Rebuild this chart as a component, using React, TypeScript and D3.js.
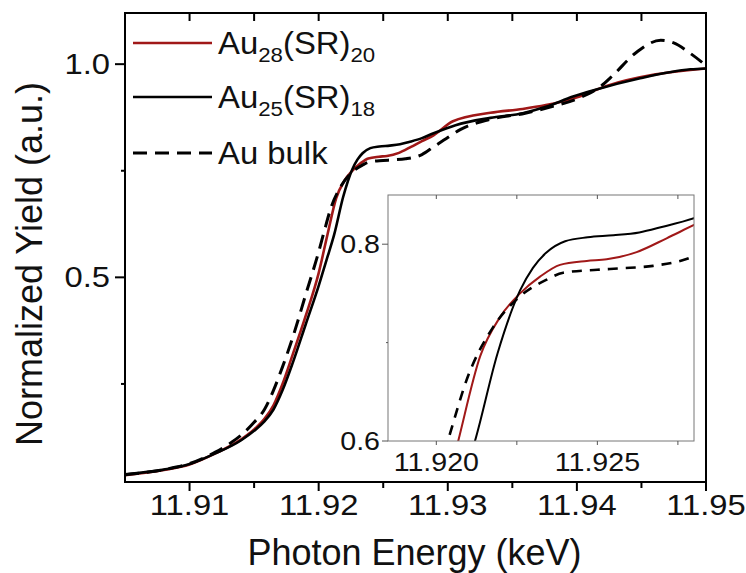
import React from "react";
import * as d3 from "d3";

// ---------- data ----------
const au25Energy = [11.905, 11.908, 11.910, 11.912, 11.914, 11.915, 11.9158, 11.9165, 11.9172, 11.918, 11.919, 11.920, 11.9206, 11.9212, 11.9219, 11.9226, 11.9230, 11.9234, 11.9240, 11.9247, 11.9255, 11.9263, 11.9270, 11.9280, 11.9289, 11.9306, 11.9333, 11.9358, 11.9376, 11.9397, 11.9413, 11.9449, 11.9488, 11.9500];
const au25Yield = [0.038, 0.049, 0.062, 0.087, 0.118, 0.140, 0.162, 0.19, 0.235, 0.30, 0.39, 0.48, 0.54, 0.600, 0.689, 0.753, 0.776, 0.791, 0.803, 0.807, 0.809, 0.812, 0.8175, 0.8265, 0.838, 0.857, 0.874, 0.885, 0.900, 0.924, 0.939, 0.967, 0.988, 0.990];

const au28Energy = [11.905, 11.908, 11.910, 11.912, 11.914, 11.915, 11.9158, 11.9165, 11.9172, 11.918, 11.919, 11.920, 11.92068, 11.92136, 11.92198, 11.9226, 11.92322, 11.92384, 11.92467, 11.92529, 11.92622, 11.92715, 11.9280, 11.9289, 11.9304, 11.9333, 11.9358, 11.9376, 11.9397, 11.9423, 11.9461, 11.9500];
const au28Yield = [0.036, 0.048, 0.061, 0.087, 0.12, 0.143, 0.168, 0.20, 0.25, 0.32, 0.41, 0.51, 0.600, 0.686, 0.726, 0.750, 0.767, 0.779, 0.783, 0.7846, 0.792, 0.806, 0.8195, 0.833, 0.866, 0.886, 0.895, 0.904, 0.919, 0.949, 0.976, 0.990];

const bulkEnergy = [11.905, 11.908, 11.910, 11.912, 11.913, 11.914, 11.915, 11.9158, 11.9165, 11.9172, 11.918, 11.919, 11.920, 11.92043, 11.92094, 11.92177, 11.9226, 11.92343, 11.92394, 11.9250, 11.9257, 11.92673, 11.9280, 11.9289, 11.9300, 11.9310, 11.9335, 11.9360, 11.9380, 11.9402, 11.9418, 11.9428, 11.9445, 11.9465, 11.9475, 11.9488, 11.9500];
const bulkYield = [0.037, 0.049, 0.063, 0.09, 0.108, 0.13, 0.16, 0.19, 0.235, 0.29, 0.36, 0.46, 0.56, 0.608, 0.662, 0.716, 0.747, 0.764, 0.771, 0.774, 0.7755, 0.778, 0.788, 0.806, 0.828, 0.847, 0.872, 0.885, 0.900, 0.921, 0.947, 0.974, 1.025, 1.056, 1.050, 1.025, 0.997];

const xMajorTicks = [11.91, 11.92, 11.93, 11.94, 11.95];
const xMinorTicks = [11.915, 11.925, 11.935, 11.945];
const xTopTicks = [11.91, 11.915, 11.92, 11.925, 11.93, 11.935, 11.94, 11.945];
const yMajorTicks = [0.5, 1.0];
const yMinorTicks = [0.25, 0.75];

const insetXTicks = [11.92, 11.9225, 11.925, 11.9275];
const insetXLabels = [11.92, 11.925];
const insetYTicks = [0.6, 0.7, 0.8];
const insetYLabels = [0.6, 0.8];

const RED = "#a01818";
const FONT = "'Liberation Sans', Arial, sans-serif";

type Series = { name: string; energy: number[]; yld: number[]; color: string; dash: boolean };
const series: Series[] = [
  { name: "au28", energy: au28Energy, yld: au28Yield, color: RED, dash: false },
  { name: "au25", energy: au25Energy, yld: au25Yield, color: "#000", dash: false },
  { name: "bulk", energy: bulkEnergy, yld: bulkYield, color: "#000", dash: true },
];

function Label({ x, y, size, anchor, sx, children }: any) {
  return (
    <text transform={`translate(${x},${y}) scale(${sx},1)`} fontSize={size} textAnchor={anchor} fill="#111">
      {children}
    </text>
  );
}

export default function App() {
  const W = 746, H = 573;
  const L = 125, R = 706, T = 13, B = 482;
  const x = d3.scaleLinear().domain([11.905, 11.95]).range([L, R]);
  const y = d3.scaleLinear().domain([0.02, 1.12]).range([B, T]);

  const iL = 388, iR = 694, iT = 195, iB = 441;
  const xi = d3.scaleLinear().domain([11.9185, 11.928]).range([iL, iR]);
  const yi = d3.scaleLinear().domain([0.6, 0.85]).range([iB, iT]);

  const mkLine = (sx: any, sy: any) =>
    d3.line<[number, number]>().x((d) => sx(d[0])).y((d) => sy(d[1])).curve(d3.curveMonotoneX);
  const mainLine = mkLine(x, y);
  const insetLine = mkLine(xi, yi);
  const pts = (s: Series) => s.energy.map((e, i) => [e, s.yld[i]] as [number, number]);

  return (
    <svg width={W} height={H} style={{ position: "absolute", left: 0, top: 0, background: "#fff" }} fontFamily={FONT}>
      <defs>
        <clipPath id="mainClip"><rect x={L} y={T} width={R - L} height={B - T} /></clipPath>
        <clipPath id="insetClip"><rect x={iL} y={iT} width={iR - iL} height={iB - iT} /></clipPath>
      </defs>
      <rect x={0} y={0} width={W} height={H} fill="#fff" />

      {/* main curves */}
      <g clipPath="url(#mainClip)">
        {series.map((s) => (
          <path key={s.name} d={mainLine(pts(s)) || ""} fill="none" stroke={s.color}
            strokeWidth={s.dash ? 3 : 2.6} strokeDasharray={s.dash ? "14 8" : undefined} />
        ))}
      </g>

      {/* main frame */}
      <rect x={L} y={T} width={R - L} height={B - T} fill="none" stroke="#000" strokeWidth={2} />
      {xMajorTicks.map((t) => (
        <line key={"xM" + t} x1={x(t)} x2={x(t)} y1={B} y2={B + 9} stroke="#000" strokeWidth={2} />
      ))}
      {xMinorTicks.map((t) => (
        <line key={"xm" + t} x1={x(t)} x2={x(t)} y1={B} y2={B + 6} stroke="#000" strokeWidth={2} />
      ))}
      {xTopTicks.map((t) => (
        <line key={"xt" + t} x1={x(t)} x2={x(t)} y1={T} y2={T + 8} stroke="#000" strokeWidth={2} />
      ))}
      {yMajorTicks.map((t) => (
        <line key={"yM" + t} x1={L - 10} x2={L} y1={y(t)} y2={y(t)} stroke="#000" strokeWidth={2} />
      ))}
      {yMinorTicks.map((t) => (
        <line key={"ym" + t} x1={L - 4} x2={L} y1={y(t)} y2={y(t)} stroke="#000" strokeWidth={2} />
      ))}
      {xMajorTicks.map((t) => (
        <Label key={"xl" + t} x={x(t)} y={B + 33} size={29} anchor="middle" sx={1.13}>{d3.format(".2f")(t)}</Label>
      ))}
      {yMajorTicks.map((t) => (
        <Label key={"yl" + t} x={L - 15} y={y(t) + 10} size={29} anchor="end" sx={1.13}>{d3.format(".1f")(t)}</Label>
      ))}
      <text x={(L + R) / 2 - 1} y={565} fontSize={36} textAnchor="middle" fill="#111">Photon Energy (keV)</text>
      <text transform={`translate(42, 264) rotate(-90)`} fontSize={36} textAnchor="middle" fill="#111">Normalized Yield (a.u.)</text>

      {/* legend */}
      <g fill="#111">
        <line x1={133} x2={212} y1={43} y2={43} stroke={RED} strokeWidth={2.6} />
        <text transform="translate(218,54) scale(1.06,1)" fontSize={31}>Au<tspan fontSize={21} dy={8}>28</tspan><tspan dy={-8}>(SR)</tspan><tspan fontSize={21} dy={8}>20</tspan></text>
        <line x1={133} x2={212} y1={97} y2={97} stroke="#000" strokeWidth={2.6} />
        <text transform="translate(218,108) scale(1.06,1)" fontSize={31}>Au<tspan fontSize={21} dy={8}>25</tspan><tspan dy={-8}>(SR)</tspan><tspan fontSize={21} dy={8}>18</tspan></text>
        <line x1={133} x2={212} y1={153} y2={153} stroke="#000" strokeWidth={3} strokeDasharray="14 8" />
        <text transform="translate(218,164) scale(1.06,1)" fontSize={31}>Au bulk</text>
      </g>

      {/* inset */}
      <rect x={iL} y={iT} width={iR - iL} height={iB - iT} fill="#fff" />
      <g clipPath="url(#insetClip)">
        {series.map((s) => (
          <path key={"i" + s.name} d={insetLine(pts(s)) || ""} fill="none" stroke={s.color}
            strokeWidth={s.dash ? 2.6 : 2} strokeDasharray={s.dash ? "10 8" : undefined} />
        ))}
      </g>
      <rect x={iL} y={iT} width={iR - iL} height={iB - iT} fill="none" stroke="#777" strokeWidth={1} />
      {insetXTicks.map((t) => (
        <g key={"ix" + t}>
          <line x1={xi(t)} x2={xi(t)} y1={iB} y2={iB + 4} stroke="#555" strokeWidth={1} />
          <line x1={xi(t)} x2={xi(t)} y1={iT} y2={iT + 4} stroke="#555" strokeWidth={1} />
        </g>
      ))}
      {insetYTicks.map((t) => (
        <line key={"iy" + t} x1={iL - (t === 0.7 ? 2 : 6)} x2={iL} y1={yi(t)} y2={yi(t)} stroke="#555" strokeWidth={1} />
      ))}
      {insetXLabels.map((t) => (
        <Label key={"ixl" + t} x={xi(t)} y={iB + 30} size={26} anchor="middle" sx={1.1}>{d3.format(".3f")(t)}</Label>
      ))}
      {insetYLabels.map((t) => (
        <Label key={"iyl" + t} x={iL - 8} y={yi(t) + 9} size={26} anchor="end" sx={1.1}>{d3.format(".1f")(t)}</Label>
      ))}
    </svg>
  );
}
